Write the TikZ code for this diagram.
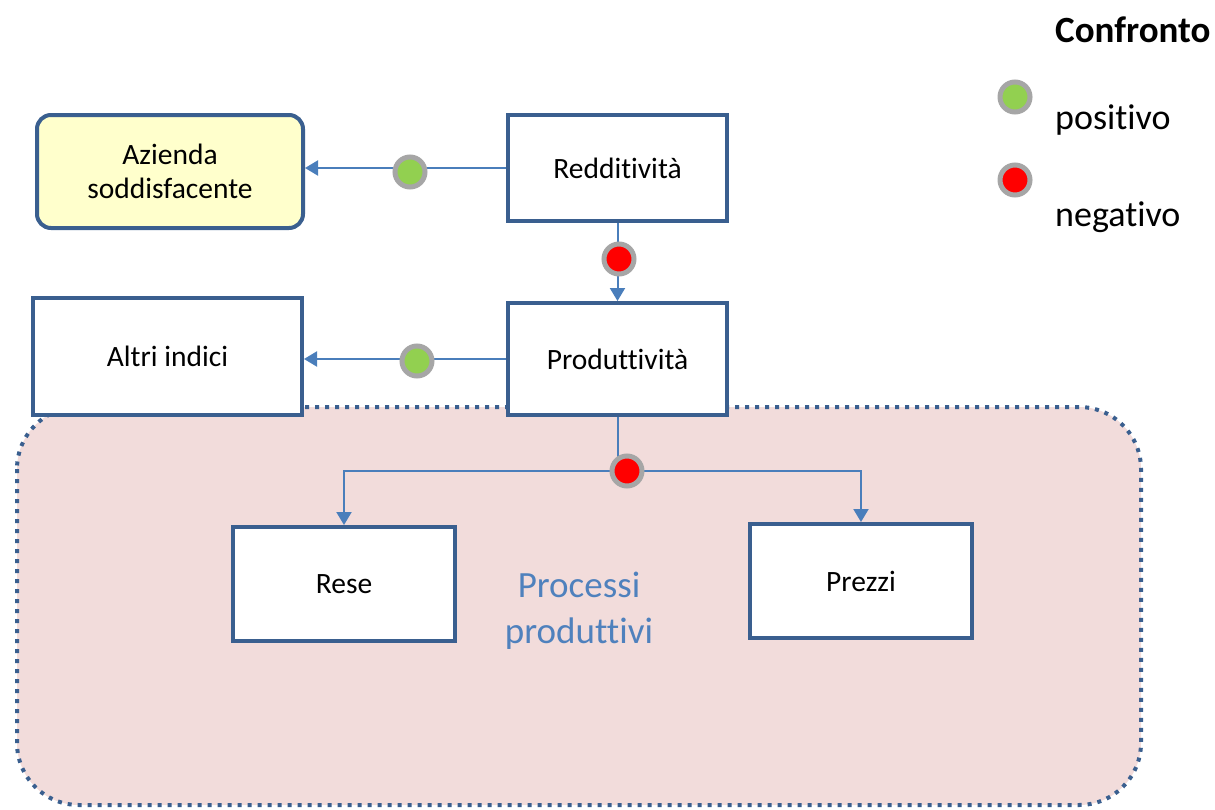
\documentclass[tikz,border=0pt]{standalone}
\usepackage{fontspec}
\setmainfont{Carlito}[Ligatures=NoCommon]
\usetikzlibrary{arrows.meta}
\definecolor{boxline}{HTML}{3A5F8F}
\definecolor{connline}{HTML}{4A7EBB}
\definecolor{zonefill}{HTML}{F2DCDB}
\definecolor{notefill}{HTML}{FFFFCC}
\definecolor{dotring}{HTML}{A6A6A6}
\definecolor{dotgreen}{HTML}{92D050}
\definecolor{dotred}{HTML}{FF0000}
\definecolor{zonetext}{HTML}{4F81BD}
\tikzset{
  stepbox/.style={draw=boxline, line width=4pt, fill=white, align=center,
    font=\fontsize{29.5}{34}\selectfont, inner sep=0pt},
  conn/.style={draw=connline, line width=2pt},
  arrowed/.style={conn, -{Triangle[width=15pt,length=13pt]}},
  gooddot/.style={circle, draw=dotring, line width=5pt, fill=dotgreen, minimum size=30pt, inner sep=0pt},
  baddot/.style={circle, draw=dotring, line width=5pt, fill=dotred, minimum size=30pt, inner sep=0pt},
  legendtext/.style={anchor=base west, font=\fontsize{36}{42}\selectfont, inner sep=0pt},
}
\begin{document}
\begin{tikzpicture}[x=1pt, y=-1pt]
  \useasboundingbox (0,0) rectangle (1215,809);

  % production area
  \draw[fill=zonefill, draw=boxline, line width=4pt, dash pattern=on 4pt off 6pt,
        rounded corners=62pt] (17,407) rectangle (1141,805);
  \node[font=\fontsize{37}{46}\selectfont, text=zonetext, align=center] (zone) at (579,611)
    {Processi\\produttivi};

  % boxes
  \node[stepbox, fill=notefill, rounded corners=14pt, minimum width=266pt, minimum height=113pt]
    (azienda) at (170,171.5) {Azienda\\soddisfacente};
  \node[stepbox, minimum width=219pt, minimum height=106pt] (redd) at (617.5,168) {Redditività};
  \node[stepbox, minimum width=219pt, minimum height=112pt] (prod) at (617.5,359) {Produttività};
  \node[stepbox, minimum width=269pt, minimum height=117pt] (altri) at (167.5,356.5) {Altri indici};
  \node[stepbox, minimum width=222pt, minimum height=114pt] (rese) at (344,584) {Rese};
  \node[stepbox, minimum width=222pt, minimum height=114pt] (prezzi) at (861,581) {Prezzi};

  % connectors
  \draw[arrowed] (redd.west) -- (azienda.east |- redd.west);
  \node[gooddot] (d1) at (410,172) {};
  \draw[arrowed] (redd.south) -- (prod.north);
  \node[baddot] (d2) at (619,259) {};
  \draw[arrowed] (prod.west) -- (altri.east |- prod.west);
  \node[gooddot] (d3) at (417,361) {};
  \coordinate (branch) at (617.5,471);
  \draw[conn] (prod.south) -- (branch);
  \draw[arrowed] (branch) -| (rese.north);
  \draw[arrowed] (branch) -| (prezzi.north);
  \node[baddot] (d4) at (627,471) {};

  % legend
  \node[anchor=base west, font=\bfseries\fontsize{37}{42}\selectfont, inner sep=0pt] (legtitle)
    at (1055,42) {Confronto};
  \node[gooddot] (leggood) at (1015,97) {};
  \node[legendtext] (legpos) at (1055,129) {positivo};
  \node[baddot] (legbad) at (1015,180) {};
  \node[legendtext] (legneg) at (1055,226) {negativo};
\end{tikzpicture}
\end{document}
